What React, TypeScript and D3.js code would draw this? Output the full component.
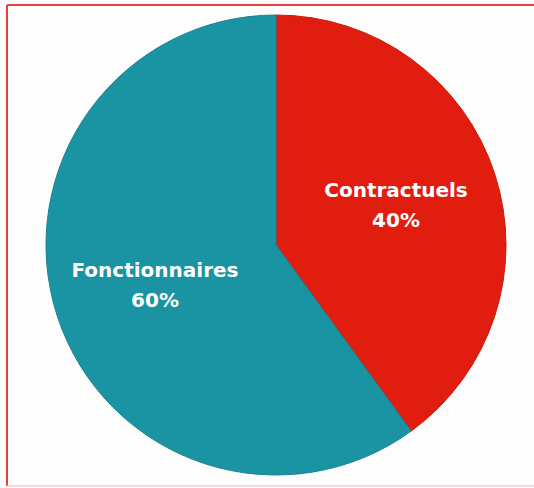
import React from "react";
import * as d3 from "d3";

const categories = ["Contractuels", "Fonctionnaires"];
const shares = [40, 60];
const colors = ["#e11d10", "#1a93a3"];
const labelPos = [
  [396, 197],
  [155, 277],
];

const W = 534;
const H = 488;
const cx = 276;
const cy = 245;
const R = 230;

export default function App() {
  const data = categories.map((c, i) => ({ name: c, value: shares[i], color: colors[i], pos: labelPos[i] }));
  const pie = d3.pie<any>().sort(null).value((d) => d.value);
  const arc = d3.arc<any>().innerRadius(0).outerRadius(R);
  const arcs = pie(data);
  return (
    <svg width={W} height={H} style={{ position: "absolute", left: 0, top: 0 }}>
      <rect x={0} y={0} width={W} height={H} fill="#fdfdfd" />
      <line x1={7} y1={5} x2={W} y2={5} stroke="#e8413a" strokeWidth={2} />
      <line x1={7} y1={5} x2={7} y2={486} stroke="#e8413a" strokeWidth={2} />
      <line x1={7} y1={486} x2={W} y2={486} stroke="#f4c8c5" strokeWidth={1.5} />
      <g transform={`translate(${cx},${cy})`}>
        {arcs.map((a, i) => (
          <path key={i} d={arc(a) as string} fill={a.data.color} stroke={d3.color(a.data.color)!.darker(0.3).toString()} strokeWidth={1} />
        ))}
      </g>
      {data.map((d, i) => (
        <text
          key={i}
          x={d.pos[0]}
          y={d.pos[1]}
          textAnchor="middle"
          fill="#ffffff"
          fontFamily="'DejaVu Sans', sans-serif"
          fontWeight="bold"
          fontSize={20}
        >
          <tspan x={d.pos[0]} dy={0}>{d.name}</tspan>
          <tspan x={d.pos[0]} dy={30}>{d.value}%</tspan>
        </text>
      ))}
    </svg>
  );
}
